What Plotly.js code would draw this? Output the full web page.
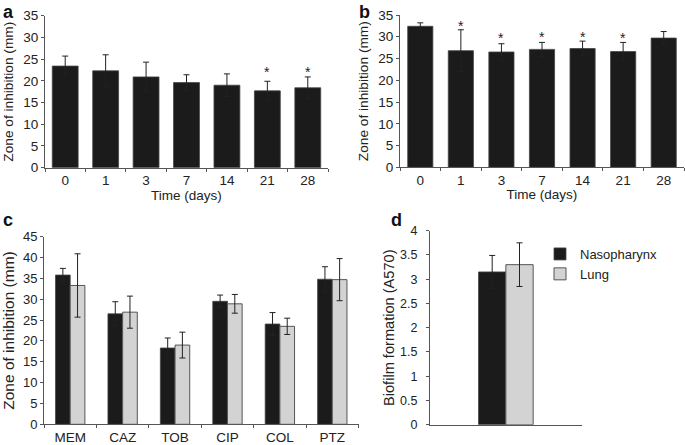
<!DOCTYPE html>
<html>
<head>
<meta charset="utf-8">
<script src="https://cdn.plot.ly/plotly-3.0.1.min.js"></script>
<style>html,body{margin:0;padding:0;background:#fff;}#chart{width:685px;height:445px;}</style>
</head>
<body>
<div id="chart"></div>
<script>
// Panels a and b: time course
var days = ['0', '1', '3', '7', '14', '21', '28'];
var aValues = [23.4, 22.3, 20.9, 19.6, 19.0, 17.7, 18.4];
var aErrors = [2.3, 3.7, 3.4, 1.8, 2.6, 2.2, 2.5];
var aStarDays = ['21', '28'];
var aStarY = [22.7, 22.7];

var bValues = [32.4, 26.8, 26.5, 27.1, 27.3, 26.6, 29.7];
var bErrors = [0.8, 4.8, 1.9, 1.6, 1.7, 2.1, 1.5];
var bStarDays = ['1', '3', '7', '14', '21'];
var bStarY = [33.25, 30.35, 30.55, 30.7, 30.4];

// Panel c: antibiotics
var drugs = ['MEM', 'CAZ', 'TOB', 'CIP', 'COL', 'PTZ'];
var nasoValues = [35.8, 26.5, 18.3, 29.5, 24.05, 34.8];
var nasoErrors = [1.6, 2.9, 2.4, 1.5, 2.75, 3.0];
var lungValues = [33.3, 26.9, 19.0, 28.9, 23.5, 34.7];
var lungErrors = [7.6, 3.85, 3.1, 2.25, 1.95, 5.05];

// Panel d: biofilm
var biofilmCat = ['Biofilm'];
var nasoBiofilm = [3.15];
var nasoBiofilmErr = [0.34];
var lungBiofilm = [3.30];
var lungBiofilmErr = [0.45];

var seriesNames = ['Nasopharynx', 'Lung'];
var panelLetters = ['a', 'b', 'c', 'd'];

var FONT = 'Liberation Sans, Arial, Helvetica, sans-serif';
var TXT = '#222222';
var BLACK = '#1b1b1b';
var GREY = '#d3d3d3';
var AXC = '#555555';

function errY(arr) {
  return {type: 'data', array: arr, visible: true, color: '#222', thickness: 1, width: 3};
}

var traces = [
  {type: 'bar', x: days, y: aValues, xaxis: 'x', yaxis: 'y', width: 0.64,
   marker: {color: BLACK, line: {color: '#444', width: 0.8}}, error_y: errY(aErrors), showlegend: false},
  {type: 'bar', x: days, y: bValues, xaxis: 'x2', yaxis: 'y2', width: 0.62,
   marker: {color: BLACK, line: {color: '#444', width: 0.8}}, error_y: errY(bErrors), showlegend: false},
  {type: 'bar', x: drugs, y: nasoValues, xaxis: 'x3', yaxis: 'y3', width: 0.28, offset: -0.28,
   marker: {color: BLACK, line: {color: '#444', width: 0.8}}, error_y: errY(nasoErrors), showlegend: false, name: seriesNames[0]},
  {type: 'bar', x: drugs, y: lungValues, xaxis: 'x3', yaxis: 'y3', width: 0.28, offset: 0,
   marker: {color: GREY, line: {color: '#555', width: 1}}, error_y: errY(lungErrors), showlegend: false, name: seriesNames[1]},
  {type: 'bar', x: biofilmCat, y: nasoBiofilm, xaxis: 'x4', yaxis: 'y4', width: 0.18, offset: -0.18,
   marker: {color: BLACK, line: {color: '#444', width: 0.8}}, error_y: errY(nasoBiofilmErr), showlegend: true, name: seriesNames[0]},
  {type: 'bar', x: biofilmCat, y: lungBiofilm, xaxis: 'x4', yaxis: 'y4', width: 0.18, offset: 0,
   marker: {color: GREY, line: {color: '#555', width: 1}}, error_y: errY(lungBiofilmErr), showlegend: true, name: seriesNames[1]}
];

function xAx(domain, anchor, titleText, showLabels, nCats) {
  var ax = {
    domain: domain, anchor: anchor, type: 'category', range: [-0.5, nCats - 0.5],
    showline: true, linecolor: AXC, linewidth: 1,
    ticks: showLabels ? 'outside' : '', tickson: 'boundaries', ticklen: 3, tickcolor: AXC, tickwidth: 1,
    showgrid: false, zeroline: false, showticklabels: showLabels, tickangle: 0,
    tickfont: {family: FONT, size: 13.5, color: TXT}, fixedrange: true
  };
  if (titleText) ax.title = {text: titleText, font: {family: FONT, size: 13.5, color: TXT}, standoff: 3};
  return ax;
}
function yAx(domain, anchor, range, dtick, titleText, titleSize, tickSize, standoff) {
  return {
    domain: domain, anchor: anchor, range: range, dtick: dtick, tick0: 0,
    showline: true, linecolor: AXC, linewidth: 1,
    ticks: 'outside', ticklen: 3, tickcolor: AXC, tickwidth: 1,
    showgrid: false, zeroline: false,
    tickfont: {family: FONT, size: tickSize, color: TXT},
    title: {text: titleText, font: {family: FONT, size: titleSize, color: TXT}, standoff: standoff},
    fixedrange: true
  };
}

var annotations = [];
var letterPos = [[1, 0], [357, 0], [1, 208], [389, 208]];
for (var i = 0; i < panelLetters.length; i++) {
  annotations.push({
    text: '<b>' + panelLetters[i] + '</b>', xref: 'paper', yref: 'paper',
    x: letterPos[i][0] / 685, y: 1 - letterPos[i][1] / 445, xanchor: 'left', yanchor: 'top',
    showarrow: false, font: {family: FONT, size: 18, color: '#111'}
  });
}
function addStars(xs, ys, xr, yr) {
  for (var k = 0; k < xs.length; k++) {
    annotations.push({text: '*', x: days.indexOf(xs[k]), y: ys[k], xref: xr, yref: yr, showarrow: false,
      yanchor: 'middle', yshift: -3, font: {family: FONT, size: 14, color: TXT}});
  }
}
addStars(aStarDays, aStarY, 'x', 'y');
addStars(bStarDays, bStarY, 'x2', 'y2');

var layout = {
  width: 685, height: 445,
  margin: {l: 0, r: 0, t: 0, b: 0},
  paper_bgcolor: '#fff', plot_bgcolor: '#fff',
  font: {family: FONT, color: TXT},
  barmode: 'group',
  xaxis: xAx([45 / 685, 328 / 685], 'y', 'Time (days)', true, days.length),
  yaxis: yAx([(445 - 167.7) / 445, (445 - 15.7) / 445], 'x', [0, 35], 5, 'Zone of inhibition (mm)', 13.7, 13.5, 6),
  xaxis2: xAx([400 / 685, 684 / 685], 'y2', 'Time (days)', true, days.length),
  yaxis2: yAx([(445 - 167.3) / 445, (445 - 15) / 445], 'x2', [0, 35], 5, 'Zone of inhibition (mm)', 13.7, 13.5, 6),
  xaxis3: xAx([44 / 685, 358.5 / 685], 'y3', null, true, drugs.length),
  yaxis3: yAx([(445 - 424.3) / 445, (445 - 236.7) / 445], 'x3', [0, 45], 5, 'Zone of inhibition (mm)', 15.5, 13, 6),
  xaxis4: xAx([430 / 685, 581.7 / 685], 'y4', null, false, biofilmCat.length),
  yaxis4: yAx([(445 - 424.7) / 445, (445 - 230.7) / 445], 'x4', [0, 4], 0.5, 'Biofilm formation (A570)', 14.6, 12.5, 1),
  legend: {x: 540 / 685, y: 1 - 239 / 445, xanchor: 'left', yanchor: 'top',
    font: {family: FONT, size: 13, color: TXT}, bgcolor: 'rgba(0,0,0,0)', borderwidth: 0},
  annotations: annotations
};
layout.yaxis4.ticklabelstandoff = 6;

Plotly.newPlot('chart', traces, layout, {staticPlot: true, displayModeBar: false});
</script>
</body>
</html>
